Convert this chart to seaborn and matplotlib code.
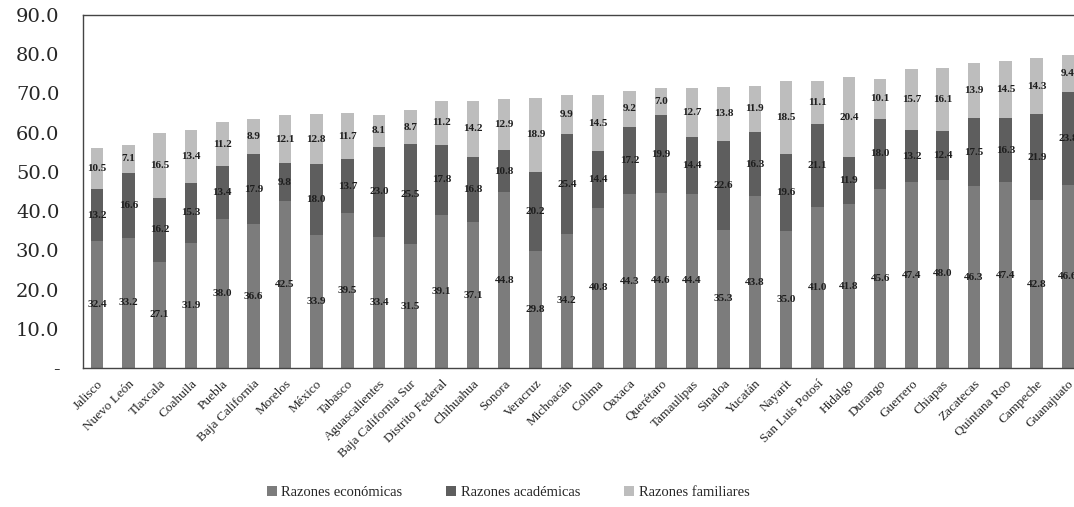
import matplotlib
matplotlib.use("Agg")
import matplotlib.pyplot as plt
import seaborn as sns
import numpy as np
import pandas as pd
from matplotlib.patches import Patch
from matplotlib.ticker import FixedLocator

states = ["Jalisco", "Nuevo León", "Tlaxcala", "Coahuila", "Puebla", "Baja California",
          "Morelos", "México", "Tabasco", "Aguascalientes", "Baja California Sur",
          "Distrito Federal", "Chihuahua", "Sonora", "Veracruz", "Michoacán", "Colima",
          "Oaxaca", "Querétaro", "Tamaulipas", "Sinaloa", "Yucatán", "Nayarit",
          "San Luis Potosí", "Hidalgo", "Durango", "Guerrero", "Chiapas", "Zacatecas",
          "Quintana Roo", "Campeche", "Guanajuato"]
economicas = [32.4, 33.2, 27.1, 31.9, 38.0, 36.6, 42.5, 33.9, 39.5, 33.4, 31.5,
              39.1, 37.1, 44.8, 29.8, 34.2, 40.8, 44.3, 44.6, 44.4, 35.3, 43.8,
              35.0, 41.0, 41.8, 45.6, 47.4, 48.0, 46.3, 47.4, 42.8, 46.6]
academicas = [13.2, 16.6, 16.2, 15.3, 13.4, 17.9, 9.8, 18.0, 13.7, 23.0, 25.5,
              17.8, 16.8, 10.8, 20.2, 25.4, 14.4, 17.2, 19.9, 14.4, 22.6, 16.3,
              19.6, 21.1, 11.9, 18.0, 13.2, 12.4, 17.5, 16.3, 21.9, 23.8]
familiares = [10.5, 7.1, 16.5, 13.4, 11.2, 8.9, 12.1, 12.8, 11.7, 8.1, 8.7,
              11.2, 14.2, 12.9, 18.9, 9.9, 14.5, 9.2, 7.0, 12.7, 13.8, 11.9,
              18.5, 11.1, 20.4, 10.1, 15.7, 16.1, 13.9, 14.5, 14.3, 9.4]
series_names = ["Razones económicas", "Razones académicas", "Razones familiares"]
yticks = [0, 10, 20, 30, 40, 50, 60, 70, 80, 90]
ytick_labels = ["-", "10.0", "20.0", "30.0", "40.0", "50.0", "60.0", "70.0", "80.0", "90.0"]

col_econ = "#7c7c7c"
col_acad = "#5e5e5e"
col_fam = "#bdbdbd"

sns.set_theme(style="white")
plt.rcParams["font.family"] = ["Liberation Serif", "DejaVu Serif"]

e = np.array(economicas)
a = np.array(academicas)
f = np.array(familiares)
df = pd.DataFrame({"estado": states,
                   "total": e + a + f,
                   "ea": e + a,
                   "e": e})

fig = plt.figure(figsize=(10.74, 5.07), dpi=100)
ax = fig.add_axes([83 / 1074, 1 - 368 / 507, (1074 - 83) / 1074, (368 - 15) / 507])

bw = 0.4
sns.barplot(data=df, x="estado", y="total", order=states, color=col_fam,
            width=bw, saturation=1, ax=ax, linewidth=0)
sns.barplot(data=df, x="estado", y="ea", order=states, color=col_acad,
            width=bw, saturation=1, ax=ax, linewidth=0)
sns.barplot(data=df, x="estado", y="e", order=states, color=col_econ,
            width=bw, saturation=1, ax=ax, linewidth=0)

for i in range(len(states)):
    kw = dict(ha="center", va="center", fontsize=8, color="#1e1e1e", fontweight="bold")
    ax.text(i, e[i] / 2, f"{e[i]:.1f}", **kw)
    ax.text(i, e[i] + a[i] / 2, f"{a[i]:.1f}", **kw)
    ax.text(i, e[i] + a[i] + f[i] / 2, f"{f[i]:.1f}", **kw)

ax.set_xlim(-0.447, 31.19)
ax.set_ylim(0, 90)
ax.set_yticks(yticks)
ax.set_yticklabels(ytick_labels, fontsize=14, fontfamily="DejaVu Serif")
ax.set_xticks(range(len(states)))
ax.set_xticklabels(states, rotation=45, ha="right", rotation_mode="anchor", fontsize=9.5)
ax.xaxis.set_minor_locator(FixedLocator(np.arange(-0.5, len(states), 1)))
ax.tick_params(axis="x", which="major", length=0, pad=7)
ax.tick_params(axis="x", which="minor", length=4, width=0.8, color="#555555", direction="out")
ax.tick_params(axis="y", length=3, width=0.8, color="#555555", direction="out", pad=14)
ax.set_xlabel("")
ax.set_ylabel("")
for s in ["left", "bottom", "top"]:
    ax.spines[s].set_visible(True)
    ax.spines[s].set_color("#444444")
    ax.spines[s].set_linewidth(1.0)
ax.spines["right"].set_visible(False)

handles = [Patch(facecolor=col_econ, edgecolor="none"),
           Patch(facecolor=col_acad, edgecolor="none"),
           Patch(facecolor=col_fam, edgecolor="none")]
fig.legend(handles, series_names, loc="center", bbox_to_anchor=(0.473, 0.028), ncol=3,
           frameon=False, fontsize=10.5, handlelength=0.7, handleheight=0.7,
           handletextpad=0.3, columnspacing=3.0)

fig.savefig("out.png", dpi=100)
